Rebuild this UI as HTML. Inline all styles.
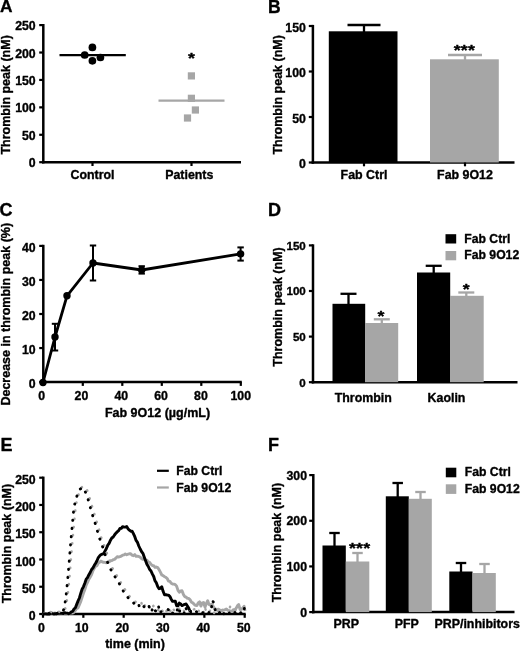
<!DOCTYPE html>
<html lang="en"><head><meta charset="utf-8"><title>Figure</title>
<style>
html,body{margin:0;padding:0;background:#fff;}
svg{display:block;}
svg text{font-family:"Liberation Sans",sans-serif;font-weight:bold;stroke:#000;stroke-width:.35px;stroke-linejoin:round;}
</style></head><body>
<svg width="520" height="651" viewBox="0 0 520 651">
<rect width="520" height="651" fill="#fff"/>
<text x="0.00" y="12.40" font-size="17.3" text-anchor="start" fill="#000" >A</text>
<text x="268.10" y="12.60" font-size="17.5" text-anchor="start" fill="#000" >B</text>
<text x="-0.60" y="216.10" font-size="18" text-anchor="start" fill="#000" >C</text>
<text x="267.90" y="216.10" font-size="18" text-anchor="start" fill="#000" >D</text>
<text x="0.40" y="450.80" font-size="18" text-anchor="start" fill="#000" >E</text>
<text x="267.90" y="450.80" font-size="18" text-anchor="start" fill="#000" >F</text>
<line x1="43.30" y1="163.45" x2="43.30" y2="24.00" stroke="#000" stroke-width="2.5" stroke-linecap="butt"/>
<line x1="39.20" y1="162.20" x2="43.30" y2="162.20" stroke="#000" stroke-width="2.2" stroke-linecap="butt"/>
<text x="35.70" y="167.30" font-size="12.3" text-anchor="end" fill="#000" >0</text>
<line x1="39.20" y1="134.78" x2="43.30" y2="134.78" stroke="#000" stroke-width="2.2" stroke-linecap="butt"/>
<text x="35.70" y="139.88" font-size="12.3" text-anchor="end" fill="#000" >50</text>
<line x1="39.20" y1="107.36" x2="43.30" y2="107.36" stroke="#000" stroke-width="2.2" stroke-linecap="butt"/>
<text x="35.70" y="112.46" font-size="12.3" text-anchor="end" fill="#000" >100</text>
<line x1="39.20" y1="79.94" x2="43.30" y2="79.94" stroke="#000" stroke-width="2.2" stroke-linecap="butt"/>
<text x="35.70" y="85.04" font-size="12.3" text-anchor="end" fill="#000" >150</text>
<line x1="39.20" y1="52.52" x2="43.30" y2="52.52" stroke="#000" stroke-width="2.2" stroke-linecap="butt"/>
<text x="35.70" y="57.62" font-size="12.3" text-anchor="end" fill="#000" >200</text>
<line x1="39.20" y1="25.10" x2="43.30" y2="25.10" stroke="#000" stroke-width="2.2" stroke-linecap="butt"/>
<text x="35.70" y="30.20" font-size="12.3" text-anchor="end" fill="#000" >250</text>
<line x1="42.05" y1="162.20" x2="241.00" y2="162.20" stroke="#000" stroke-width="2.5" stroke-linecap="butt"/>
<line x1="92.50" y1="162.20" x2="92.50" y2="166.00" stroke="#000" stroke-width="2.2" stroke-linecap="butt"/>
<line x1="191.50" y1="162.20" x2="191.50" y2="166.00" stroke="#000" stroke-width="2.2" stroke-linecap="butt"/>
<text x="92.50" y="179.30" font-size="12.4" text-anchor="middle" fill="#000" >Control</text>
<text x="189.30" y="179.30" font-size="12.4" text-anchor="middle" fill="#000" >Patients</text>
<text transform="translate(10.40,94.90) rotate(-90)" font-size="12.5" text-anchor="middle">Thrombin peak (nM)</text>
<line x1="59.50" y1="55.10" x2="125.80" y2="55.10" stroke="#000" stroke-width="2.2" stroke-linecap="butt"/>
<circle cx="92.4" cy="47.4" r="3.85" fill="#000"/>
<circle cx="84.7" cy="55.0" r="3.85" fill="#000"/>
<circle cx="100.4" cy="57.5" r="3.85" fill="#000"/>
<circle cx="92.4" cy="60.8" r="3.85" fill="#000"/>
<line x1="158.50" y1="100.60" x2="224.50" y2="100.60" stroke="#a6a6a6" stroke-width="2.2" stroke-linecap="butt"/>
<rect x="187.80" y="72.30" width="7.20" height="7.20" fill="#a6a6a6"/>
<rect x="187.80" y="94.70" width="7.20" height="7.20" fill="#a6a6a6"/>
<rect x="191.80" y="106.40" width="7.20" height="7.20" fill="#a6a6a6"/>
<rect x="183.90" y="114.40" width="7.20" height="7.20" fill="#a6a6a6"/>
<text transform="translate(191.50,63.18) scale(1.15,0.9)" font-size="15.5" text-anchor="middle" letter-spacing="0.15" stroke-width="0.2">*</text>
<line x1="312.90" y1="163.75" x2="312.90" y2="24.90" stroke="#000" stroke-width="2.5" stroke-linecap="butt"/>
<line x1="308.80" y1="162.50" x2="312.90" y2="162.50" stroke="#000" stroke-width="2.2" stroke-linecap="butt"/>
<text x="305.90" y="168.20" font-size="12.3" text-anchor="end" fill="#000" >0</text>
<line x1="308.80" y1="117.00" x2="312.90" y2="117.00" stroke="#000" stroke-width="2.2" stroke-linecap="butt"/>
<text x="305.90" y="122.70" font-size="12.3" text-anchor="end" fill="#000" >50</text>
<line x1="308.80" y1="71.50" x2="312.90" y2="71.50" stroke="#000" stroke-width="2.2" stroke-linecap="butt"/>
<text x="305.90" y="77.20" font-size="12.3" text-anchor="end" fill="#000" >100</text>
<line x1="308.80" y1="26.00" x2="312.90" y2="26.00" stroke="#000" stroke-width="2.2" stroke-linecap="butt"/>
<text x="305.90" y="31.70" font-size="12.3" text-anchor="end" fill="#000" >150</text>
<line x1="311.65" y1="162.50" x2="514.50" y2="162.50" stroke="#000" stroke-width="2.5" stroke-linecap="butt"/>
<rect x="328.80" y="31.30" width="68.70" height="131.20" fill="#000"/>
<line x1="364.00" y1="25.00" x2="364.00" y2="32.00" stroke="#000" stroke-width="2.3" stroke-linecap="butt"/>
<line x1="347.50" y1="25.00" x2="380.50" y2="25.00" stroke="#000" stroke-width="2.3" stroke-linecap="butt"/>
<rect x="430.00" y="59.30" width="68.80" height="103.20" fill="#a6a6a6"/>
<line x1="465.00" y1="55.00" x2="465.00" y2="60.00" stroke="#a6a6a6" stroke-width="2.3" stroke-linecap="butt"/>
<line x1="448.00" y1="55.00" x2="482.00" y2="55.00" stroke="#a6a6a6" stroke-width="2.3" stroke-linecap="butt"/>
<line x1="364.00" y1="162.50" x2="364.00" y2="166.30" stroke="#000" stroke-width="2.2" stroke-linecap="butt"/>
<line x1="465.00" y1="162.50" x2="465.00" y2="166.30" stroke="#000" stroke-width="2.2" stroke-linecap="butt"/>
<text x="364.00" y="179.30" font-size="12.4" text-anchor="middle" fill="#000" >Fab Ctrl</text>
<text x="465.00" y="179.30" font-size="12.4" text-anchor="middle" fill="#000" >Fab 9O12</text>
<text transform="translate(464.40,54.58) scale(1.15,0.9)" font-size="15.5" text-anchor="middle" letter-spacing="0.15" stroke-width="0.2">***</text>
<text transform="translate(282.30,94.80) rotate(-90)" font-size="12.5" text-anchor="middle">Thrombin peak (nM)</text>
<line x1="43.30" y1="383.35" x2="43.30" y2="244.80" stroke="#000" stroke-width="2.5" stroke-linecap="butt"/>
<line x1="39.20" y1="382.10" x2="43.30" y2="382.10" stroke="#000" stroke-width="2.2" stroke-linecap="butt"/>
<text x="35.70" y="388.40" font-size="12.3" text-anchor="end" fill="#000" >0</text>
<line x1="39.20" y1="348.05" x2="43.30" y2="348.05" stroke="#000" stroke-width="2.2" stroke-linecap="butt"/>
<text x="35.70" y="354.35" font-size="12.3" text-anchor="end" fill="#000" >10</text>
<line x1="39.20" y1="314.00" x2="43.30" y2="314.00" stroke="#000" stroke-width="2.2" stroke-linecap="butt"/>
<text x="35.70" y="320.30" font-size="12.3" text-anchor="end" fill="#000" >20</text>
<line x1="39.20" y1="279.95" x2="43.30" y2="279.95" stroke="#000" stroke-width="2.2" stroke-linecap="butt"/>
<text x="35.70" y="286.25" font-size="12.3" text-anchor="end" fill="#000" >30</text>
<line x1="39.20" y1="245.90" x2="43.30" y2="245.90" stroke="#000" stroke-width="2.2" stroke-linecap="butt"/>
<text x="35.70" y="252.20" font-size="12.3" text-anchor="end" fill="#000" >40</text>
<line x1="42.05" y1="382.10" x2="241.80" y2="382.10" stroke="#000" stroke-width="2.5" stroke-linecap="butt"/>
<line x1="43.30" y1="382.10" x2="43.30" y2="385.90" stroke="#000" stroke-width="2.2" stroke-linecap="butt"/>
<text x="41.60" y="399.50" font-size="12.3" text-anchor="middle" fill="#000" >0</text>
<line x1="82.80" y1="382.10" x2="82.80" y2="385.90" stroke="#000" stroke-width="2.2" stroke-linecap="butt"/>
<text x="81.44" y="399.50" font-size="12.3" text-anchor="middle" fill="#000" >20</text>
<line x1="122.30" y1="382.10" x2="122.30" y2="385.90" stroke="#000" stroke-width="2.2" stroke-linecap="butt"/>
<text x="121.28" y="399.50" font-size="12.3" text-anchor="middle" fill="#000" >40</text>
<line x1="161.80" y1="382.10" x2="161.80" y2="385.90" stroke="#000" stroke-width="2.2" stroke-linecap="butt"/>
<text x="161.12" y="399.50" font-size="12.3" text-anchor="middle" fill="#000" >60</text>
<line x1="201.30" y1="382.10" x2="201.30" y2="385.90" stroke="#000" stroke-width="2.2" stroke-linecap="butt"/>
<text x="200.96" y="399.50" font-size="12.3" text-anchor="middle" fill="#000" >80</text>
<line x1="240.80" y1="382.10" x2="240.80" y2="385.90" stroke="#000" stroke-width="2.2" stroke-linecap="butt"/>
<text x="240.80" y="399.50" font-size="12.3" text-anchor="middle" fill="#000" >100</text>
<text x="157.50" y="416.60" font-size="12.5" text-anchor="middle" fill="#000" >Fab 9O12 (µg/mL)</text>
<text transform="translate(10.40,314.25) rotate(-90)" font-size="12.5" text-anchor="middle">Decrease in thrombin peak (%)</text>
<polyline fill="none" stroke="#000" stroke-width="2.8" stroke-linejoin="round" points="43,382.5 55,337 67,295.8 93,263 141.7,270.0 240.6,253.9"/>
<circle cx="43" cy="382.5" r="3.7" fill="#000"/>
<line x1="55.00" y1="323.80" x2="55.00" y2="350.50" stroke="#000" stroke-width="2.0" stroke-linecap="butt"/>
<line x1="51.80" y1="323.80" x2="58.20" y2="323.80" stroke="#000" stroke-width="2.0" stroke-linecap="butt"/>
<line x1="51.80" y1="350.50" x2="58.20" y2="350.50" stroke="#000" stroke-width="2.0" stroke-linecap="butt"/>
<circle cx="55" cy="337" r="3.7" fill="#000"/>
<circle cx="67" cy="295.8" r="3.7" fill="#000"/>
<line x1="93.00" y1="245.50" x2="93.00" y2="280.50" stroke="#000" stroke-width="2.0" stroke-linecap="butt"/>
<line x1="89.80" y1="245.50" x2="96.20" y2="245.50" stroke="#000" stroke-width="2.0" stroke-linecap="butt"/>
<line x1="89.80" y1="280.50" x2="96.20" y2="280.50" stroke="#000" stroke-width="2.0" stroke-linecap="butt"/>
<circle cx="93" cy="263" r="3.7" fill="#000"/>
<line x1="141.70" y1="266.20" x2="141.70" y2="273.60" stroke="#000" stroke-width="2.0" stroke-linecap="butt"/>
<line x1="138.50" y1="266.20" x2="144.90" y2="266.20" stroke="#000" stroke-width="2.0" stroke-linecap="butt"/>
<line x1="138.50" y1="273.60" x2="144.90" y2="273.60" stroke="#000" stroke-width="2.0" stroke-linecap="butt"/>
<circle cx="141.7" cy="270.0" r="3.7" fill="#000"/>
<line x1="240.60" y1="247.40" x2="240.60" y2="260.60" stroke="#000" stroke-width="2.0" stroke-linecap="butt"/>
<line x1="237.40" y1="247.40" x2="243.80" y2="247.40" stroke="#000" stroke-width="2.0" stroke-linecap="butt"/>
<line x1="237.40" y1="260.60" x2="243.80" y2="260.60" stroke="#000" stroke-width="2.0" stroke-linecap="butt"/>
<circle cx="240.6" cy="253.9" r="3.7" fill="#000"/>
<line x1="313.00" y1="383.45" x2="313.00" y2="244.30" stroke="#000" stroke-width="2.5" stroke-linecap="butt"/>
<line x1="308.90" y1="382.20" x2="313.00" y2="382.20" stroke="#000" stroke-width="2.2" stroke-linecap="butt"/>
<text x="305.80" y="386.65" font-size="11.6" text-anchor="end" fill="#000" >0</text>
<line x1="308.90" y1="336.60" x2="313.00" y2="336.60" stroke="#000" stroke-width="2.2" stroke-linecap="butt"/>
<text x="305.80" y="341.05" font-size="11.6" text-anchor="end" fill="#000" >50</text>
<line x1="308.90" y1="291.00" x2="313.00" y2="291.00" stroke="#000" stroke-width="2.2" stroke-linecap="butt"/>
<text x="305.80" y="295.45" font-size="11.6" text-anchor="end" fill="#000" >100</text>
<line x1="308.90" y1="245.40" x2="313.00" y2="245.40" stroke="#000" stroke-width="2.2" stroke-linecap="butt"/>
<text x="305.80" y="249.85" font-size="11.6" text-anchor="end" fill="#000" >150</text>
<line x1="311.75" y1="382.20" x2="517.50" y2="382.20" stroke="#000" stroke-width="2.5" stroke-linecap="butt"/>
<rect x="332.50" y="303.80" width="32.70" height="78.40" fill="#000"/>
<line x1="348.50" y1="293.80" x2="348.50" y2="305.00" stroke="#000" stroke-width="2.3" stroke-linecap="butt"/>
<line x1="340.50" y1="293.80" x2="356.50" y2="293.80" stroke="#000" stroke-width="2.3" stroke-linecap="butt"/>
<rect x="365.00" y="323.00" width="33.20" height="59.20" fill="#a6a6a6"/>
<line x1="381.80" y1="319.30" x2="381.80" y2="324.00" stroke="#a6a6a6" stroke-width="2.3" stroke-linecap="butt"/>
<line x1="373.80" y1="319.30" x2="389.80" y2="319.30" stroke="#a6a6a6" stroke-width="2.3" stroke-linecap="butt"/>
<rect x="417.00" y="272.50" width="33.20" height="109.70" fill="#000"/>
<line x1="433.70" y1="265.80" x2="433.70" y2="274.00" stroke="#000" stroke-width="2.3" stroke-linecap="butt"/>
<line x1="425.70" y1="265.80" x2="441.70" y2="265.80" stroke="#000" stroke-width="2.3" stroke-linecap="butt"/>
<rect x="450.00" y="295.80" width="33.70" height="86.40" fill="#a6a6a6"/>
<line x1="466.30" y1="292.50" x2="466.30" y2="297.00" stroke="#a6a6a6" stroke-width="2.3" stroke-linecap="butt"/>
<line x1="458.30" y1="292.50" x2="474.30" y2="292.50" stroke="#a6a6a6" stroke-width="2.3" stroke-linecap="butt"/>
<text transform="translate(381.00,320.88) scale(1.15,0.9)" font-size="15.5" text-anchor="middle" letter-spacing="0.15" stroke-width="0.2">*</text>
<text transform="translate(466.40,294.08) scale(1.15,0.9)" font-size="15.5" text-anchor="middle" letter-spacing="0.15" stroke-width="0.2">*</text>
<text x="363.30" y="402.30" font-size="12.4" text-anchor="middle" fill="#000" >Thrombin</text>
<text x="446.50" y="402.30" font-size="12.4" text-anchor="middle" fill="#000" >Kaolin</text>
<text transform="translate(281.50,307.00) rotate(-90)" font-size="12.5" text-anchor="middle">Thrombin peak (nM)</text>
<rect x="445.50" y="234.20" width="10.70" height="9.30" fill="#000"/>
<rect x="445.50" y="251.00" width="10.70" height="9.30" fill="#a6a6a6"/>
<text x="464.30" y="243.30" font-size="12.2" text-anchor="start" fill="#000" >Fab Ctrl</text>
<text x="464.30" y="259.00" font-size="12.2" text-anchor="start" fill="#000" >Fab 9O12</text>
<line x1="43.30" y1="615.25" x2="43.30" y2="476.60" stroke="#000" stroke-width="2.5" stroke-linecap="butt"/>
<line x1="39.20" y1="614.00" x2="43.30" y2="614.00" stroke="#000" stroke-width="2.2" stroke-linecap="butt"/>
<text x="35.70" y="620.20" font-size="12.3" text-anchor="end" fill="#000" >0</text>
<line x1="39.20" y1="586.74" x2="43.30" y2="586.74" stroke="#000" stroke-width="2.2" stroke-linecap="butt"/>
<text x="35.70" y="592.94" font-size="12.3" text-anchor="end" fill="#000" >50</text>
<line x1="39.20" y1="559.48" x2="43.30" y2="559.48" stroke="#000" stroke-width="2.2" stroke-linecap="butt"/>
<text x="35.70" y="565.68" font-size="12.3" text-anchor="end" fill="#000" >100</text>
<line x1="39.20" y1="532.22" x2="43.30" y2="532.22" stroke="#000" stroke-width="2.2" stroke-linecap="butt"/>
<text x="35.70" y="538.42" font-size="12.3" text-anchor="end" fill="#000" >150</text>
<line x1="39.20" y1="504.96" x2="43.30" y2="504.96" stroke="#000" stroke-width="2.2" stroke-linecap="butt"/>
<text x="35.70" y="511.16" font-size="12.3" text-anchor="end" fill="#000" >200</text>
<line x1="39.20" y1="477.70" x2="43.30" y2="477.70" stroke="#000" stroke-width="2.2" stroke-linecap="butt"/>
<text x="35.70" y="483.90" font-size="12.3" text-anchor="end" fill="#000" >250</text>
<line x1="41.75" y1="614.00" x2="245.70" y2="614.00" stroke="#000" stroke-width="2.5" stroke-linecap="butt"/>
<line x1="43.00" y1="614.00" x2="43.00" y2="617.80" stroke="#000" stroke-width="2.2" stroke-linecap="butt"/>
<text x="41.30" y="631.50" font-size="12.3" text-anchor="middle" fill="#000" >0</text>
<line x1="83.34" y1="614.00" x2="83.34" y2="617.80" stroke="#000" stroke-width="2.2" stroke-linecap="butt"/>
<text x="81.80" y="631.50" font-size="12.3" text-anchor="middle" fill="#000" >10</text>
<line x1="123.68" y1="614.00" x2="123.68" y2="617.80" stroke="#000" stroke-width="2.2" stroke-linecap="butt"/>
<text x="122.30" y="631.50" font-size="12.3" text-anchor="middle" fill="#000" >20</text>
<line x1="164.02" y1="614.00" x2="164.02" y2="617.80" stroke="#000" stroke-width="2.2" stroke-linecap="butt"/>
<text x="162.80" y="631.50" font-size="12.3" text-anchor="middle" fill="#000" >30</text>
<line x1="204.36" y1="614.00" x2="204.36" y2="617.80" stroke="#000" stroke-width="2.2" stroke-linecap="butt"/>
<text x="203.30" y="631.50" font-size="12.3" text-anchor="middle" fill="#000" >40</text>
<line x1="244.70" y1="614.00" x2="244.70" y2="617.80" stroke="#000" stroke-width="2.2" stroke-linecap="butt"/>
<text x="243.80" y="631.50" font-size="12.3" text-anchor="middle" fill="#000" >50</text>
<text x="135.00" y="647.60" font-size="12.5" text-anchor="middle" fill="#000" >time (min)</text>
<text transform="translate(11.30,543.60) rotate(-90)" font-size="12.5" text-anchor="middle">Thrombin peak (nM)</text>
<line x1="157.00" y1="470.80" x2="168.80" y2="470.80" stroke="#000" stroke-width="2.2" stroke-linecap="butt"/>
<line x1="157.00" y1="487.50" x2="168.80" y2="487.50" stroke="#a6a6a6" stroke-width="2.2" stroke-linecap="butt"/>
<text x="176.30" y="475.20" font-size="12.2" text-anchor="start" fill="#000" >Fab Ctrl</text>
<text x="176.30" y="492.00" font-size="12.2" text-anchor="start" fill="#000" >Fab 9O12</text>
<polyline fill="none" stroke="#a6a6a6" stroke-width="2.9" stroke-linejoin="round" stroke-linecap="butt" points="43.0,613.2 44.4,613.7 45.7,613.4 47.1,613.7 48.4,613.7 49.8,612.8 51.1,612.7 52.5,614.0 53.8,613.1 55.2,613.0 56.5,614.3 57.9,613.4 59.2,614.0 60.6,613.4 61.9,613.6 63.3,612.8 64.6,613.6 66.0,613.9 67.3,613.4 68.7,613.7 70.0,613.6 71.3,612.6 72.7,613.1 74.0,612.2 75.4,610.4 76.7,608.4 78.1,607.8 79.4,604.6 80.8,601.4 82.1,597.4 83.5,593.1 84.8,589.7 86.2,585.1 87.5,582.4 88.9,579.1 90.2,577.2 91.6,574.5 92.9,570.7 94.3,568.3 95.6,566.3 97.0,565.6 98.3,563.1 99.7,562.2 101.0,561.1 102.4,562.0 103.7,562.3 105.1,562.4 106.4,562.8 107.8,562.1 109.1,561.9 110.5,560.8 111.8,560.6 113.2,559.7 114.5,559.3 115.9,558.1 117.2,556.6 118.6,557.0 119.9,556.7 121.3,556.1 122.6,555.2 124.0,554.9 125.3,554.0 126.7,554.8 128.0,554.2 129.4,553.8 130.7,553.7 132.1,555.2 133.4,555.7 134.8,554.6 136.1,556.3 137.5,556.3 138.8,556.4 140.2,557.2 141.5,558.6 142.9,559.4 144.2,558.7 145.6,560.3 146.9,560.1 148.3,562.0 149.6,562.4 151.0,564.3 152.3,565.5 153.7,565.7 155.0,567.3 156.4,567.0 157.7,567.5 159.1,569.8 160.4,572.1 161.8,575.0 163.1,575.6 164.5,576.7 165.8,577.3 167.2,578.5 168.5,581.1 169.9,581.4 171.2,583.3 172.6,584.1 173.9,584.1 175.3,584.6 176.6,586.1 178.0,590.4 179.3,592.3 180.7,590.9 182.0,590.8 183.4,594.4 184.7,596.6 186.1,597.2 187.4,598.3 188.8,598.4 190.1,599.8 191.5,602.3 192.8,602.9 194.2,604.3 195.5,605.4 196.9,605.5 198.2,603.0 199.6,601.9 200.9,606.1 202.3,603.0 203.6,602.6 205.0,607.2 206.3,603.6 207.7,600.7 209.0,604.4 210.4,605.1 211.7,604.3 213.1,606.2 214.4,608.3 215.8,609.3 217.1,609.7 218.5,609.1 219.8,610.0 221.2,610.8 222.5,610.5 223.9,610.2 225.2,609.7 226.6,609.4 227.9,610.3 229.3,610.7 230.6,611.1 232.0,611.3 233.3,609.7 234.7,610.0 236.0,608.6 237.4,605.9 238.7,604.6 240.1,609.5 241.4,609.3 242.8,608.1 244.1,606.2 245.0,611.0"/>
<polyline fill="none" stroke="#000" stroke-width="2.9" stroke-linejoin="round" stroke-linecap="butt" points="43.0,613.7 44.4,613.9 45.7,613.9 47.1,614.1 48.4,613.8 49.8,614.0 51.1,612.9 52.5,613.5 53.8,614.0 55.2,613.6 56.5,613.9 57.9,613.0 59.2,613.4 60.6,613.1 61.9,613.4 63.3,613.5 64.6,612.8 66.0,613.0 67.3,613.1 68.7,613.8 70.0,613.2 71.3,611.8 72.7,611.4 74.0,609.0 75.4,607.7 76.7,604.4 78.1,600.9 79.4,598.0 80.8,593.2 82.1,589.2 83.5,586.6 84.8,583.2 86.2,579.1 87.5,577.6 88.9,574.7 90.2,572.5 91.6,569.5 92.9,568.0 94.3,565.3 95.6,563.2 97.0,560.7 98.3,557.6 99.7,555.8 101.0,554.6 102.4,554.2 103.7,553.4 105.1,550.9 106.4,548.5 107.8,545.1 109.1,543.3 110.5,540.2 111.8,538.0 113.2,537.0 114.5,535.0 115.9,533.2 117.2,531.9 118.6,530.7 119.9,528.5 121.3,528.4 122.6,526.6 124.0,527.1 125.3,527.1 126.7,526.6 128.0,528.7 129.4,530.2 130.7,531.2 132.1,531.2 133.4,533.7 134.8,536.7 136.1,540.4 137.5,542.4 138.8,546.0 140.2,549.0 141.5,551.5 142.9,553.3 144.2,556.9 145.6,560.7 146.9,564.2 148.3,566.5 149.6,569.3 151.0,571.0 152.3,573.9 153.7,576.5 155.0,580.8 156.4,582.9 157.7,586.4 159.1,588.7 160.4,588.3 161.8,586.8 163.1,591.3 164.5,594.7 165.8,594.7 167.2,595.0 168.5,595.1 169.9,596.5 171.2,599.2 172.6,601.4 173.9,601.3 175.3,601.1 176.6,605.7 178.0,605.9 179.3,603.1 180.7,604.0 182.0,605.6 183.4,605.0 184.7,604.3 186.1,604.0 187.4,606.0 188.8,608.3 190.1,612.0 191.0,613.3"/>
<polyline fill="none" stroke="#a6a6a6" stroke-width="2.5" stroke-linejoin="round" stroke-linecap="round" stroke-dasharray="0.4 7.8" stroke-dashoffset="0" points="50.8,612.1 52.1,612.2 53.5,612.6 54.8,612.1 56.2,612.2 57.5,612.2 58.9,611.8 60.2,612.2 61.6,612.3 62.9,612.0 64.3,610.5 65.6,607.7 67.0,599.6 68.3,590.0 69.7,574.6 71.0,558.2 72.4,541.7 73.7,527.1 75.1,511.9 76.4,502.7 77.8,497.1 79.1,492.7 80.5,490.2 81.8,487.2 83.2,486.3 84.5,486.2 85.9,487.8 87.2,490.6 88.6,494.5 89.9,499.1 91.3,503.6 92.6,508.4 94.0,512.8 95.3,517.5 96.7,521.8 98.0,525.6 99.4,531.0 100.7,536.1 102.1,539.9 103.4,543.6 104.8,546.9 106.1,550.6 107.5,555.4 108.8,559.1 110.2,563.3 111.5,566.1 112.9,569.0 114.2,571.0 115.6,573.8 116.9,575.7 118.3,576.9 119.6,579.6 121.0,583.0 122.3,585.1 123.7,587.9 125.0,589.6 126.4,591.6 127.7,594.1 129.1,595.9 130.4,597.1 131.8,598.6 133.1,600.0 134.5,601.4 135.8,602.0 137.2,600.6 138.5,602.1 139.9,602.0 141.2,602.3 142.6,606.6 143.9,603.9 145.3,606.3 146.6,606.2 148.0,605.2 149.3,608.3 150.7,605.5 152.0,608.4 153.4,605.9 154.7,607.7 156.1,606.9 157.4,607.5 158.8,611.4 160.1,610.7 161.5,608.4 162.8,611.7 164.2,608.4 165.5,609.5 166.9,612.0 168.2,611.0 169.6,608.3 170.9,613.0 172.3,609.1 173.6,609.5 175.0,612.2 176.3,610.1 177.7,610.0 179.0,608.8 180.4,608.9 181.7,611.5 183.1,609.7 184.4,611.6 185.8,610.4 187.1,610.8 188.5,613.0 189.8,611.0 191.2,611.5 192.5,613.0 193.9,609.4 195.2,609.3 196.6,613.0 197.9,612.7 199.3,609.8 200.6,609.5 202.0,612.3 203.3,613.0 204.7,602.7 206.0,613.0 207.4,613.0 208.7,611.6 210.1,610.7 211.4,609.0 212.8,608.7 214.1,613.0 215.5,609.7 216.8,612.1 218.2,609.8 219.5,612.7 220.9,611.6 222.2,610.0 223.6,609.4 224.9,612.2 226.3,608.8 227.6,609.7 229.0,611.4 230.3,605.7 231.7,611.7 233.0,609.9 234.4,613.0 235.7,609.5 237.1,608.6 238.4,609.9 239.8,610.8 241.1,608.8 242.5,609.4 243.8,610.4 245.2,611.4 246.4,611.1"/>
<polyline fill="none" stroke="#000" stroke-width="2.8" stroke-linejoin="round" stroke-linecap="round" stroke-dasharray="0.4 7.8" stroke-dashoffset="0" points="49.1,613.5 50.4,613.8 51.8,613.9 53.1,613.2 54.5,613.7 55.8,613.7 57.2,613.6 58.5,613.1 59.9,613.0 61.2,612.8 62.6,612.4 63.9,608.9 65.3,601.3 66.6,590.8 68.0,576.0 69.3,560.4 70.7,542.5 72.0,528.4 73.4,512.6 74.7,504.2 76.1,499.1 77.4,494.2 78.8,491.7 80.1,489.0 81.5,488.4 82.8,487.4 84.2,489.6 85.5,492.3 86.9,496.0 88.2,499.8 89.6,504.4 90.9,510.0 92.3,514.1 93.6,519.1 95.0,522.8 96.3,527.4 97.7,532.1 99.0,537.3 100.4,540.3 101.7,544.6 103.1,548.0 104.4,552.4 105.8,556.7 107.1,561.3 108.5,564.2 109.8,567.8 111.2,570.3 112.5,572.1 113.9,574.7 115.2,577.1 116.6,578.7 117.9,581.1 119.3,583.6 120.6,586.7 122.0,588.4 123.3,591.1 124.7,593.3 126.0,595.3 127.4,596.6 128.7,598.8 130.1,600.7 131.4,601.3 132.8,602.1 134.1,603.5 135.5,604.3 136.8,603.4 138.2,602.7 139.5,607.3 140.9,605.5 142.2,606.7 143.6,606.0 144.9,608.5 146.3,609.4 147.6,607.4 149.0,606.3 150.3,611.7 151.7,611.5 153.0,606.8 154.4,610.1 155.7,611.0 157.1,609.7 158.4,605.5 159.8,613.3 161.1,611.5 162.5,610.6 163.8,609.7 165.2,610.1 166.5,609.6 167.9,609.5 169.2,610.2 170.6,613.8 171.9,612.2 173.3,613.8 174.6,614.3 176.0,614.1 177.3,609.8 178.7,614.3 180.0,610.1 181.4,613.9 182.7,614.3 184.1,613.2 185.4,607.0 186.8,610.0 188.1,610.0 189.5,613.1 190.8,610.9 192.2,612.5 193.5,611.0 194.9,610.5 196.2,611.2 197.6,613.6 198.9,612.3 200.3,611.8 201.6,612.3 203.0,612.7 204.3,612.5 205.7,612.1 207.0,614.3 208.4,613.8 209.7,610.8 211.1,611.3 212.4,600.2 213.8,603.0 215.1,609.7 216.5,613.7 217.8,612.7 219.2,611.9 220.5,614.3 221.9,611.4 223.2,612.8 224.6,614.3 225.9,612.7 227.3,613.0 228.6,611.6 230.0,614.3 231.3,613.8 232.7,611.3 234.0,611.6 235.4,612.9 236.7,612.5 238.1,612.5 239.4,610.6 240.8,612.8 242.1,613.5 243.5,613.8 244.7,606.0"/>
<line x1="313.30" y1="613.35" x2="313.30" y2="474.00" stroke="#000" stroke-width="2.5" stroke-linecap="butt"/>
<line x1="309.20" y1="612.10" x2="313.30" y2="612.10" stroke="#000" stroke-width="2.2" stroke-linecap="butt"/>
<text x="307.00" y="616.50" font-size="12.3" text-anchor="end" fill="#000" >0</text>
<line x1="309.20" y1="566.43" x2="313.30" y2="566.43" stroke="#000" stroke-width="2.2" stroke-linecap="butt"/>
<text x="307.00" y="570.84" font-size="12.3" text-anchor="end" fill="#000" >100</text>
<line x1="309.20" y1="520.77" x2="313.30" y2="520.77" stroke="#000" stroke-width="2.2" stroke-linecap="butt"/>
<text x="307.00" y="525.17" font-size="12.3" text-anchor="end" fill="#000" >200</text>
<line x1="309.20" y1="475.10" x2="313.30" y2="475.10" stroke="#000" stroke-width="2.2" stroke-linecap="butt"/>
<text x="307.00" y="479.50" font-size="12.3" text-anchor="end" fill="#000" >300</text>
<line x1="312.05" y1="612.10" x2="514.50" y2="612.10" stroke="#000" stroke-width="2.5" stroke-linecap="butt"/>
<rect x="322.50" y="545.50" width="23.30" height="66.60" fill="#000"/>
<line x1="334.50" y1="533.00" x2="334.50" y2="546.50" stroke="#000" stroke-width="2.3" stroke-linecap="butt"/>
<line x1="329.25" y1="533.00" x2="339.75" y2="533.00" stroke="#000" stroke-width="2.3" stroke-linecap="butt"/>
<rect x="345.80" y="561.50" width="23.50" height="50.60" fill="#a6a6a6"/>
<line x1="357.50" y1="553.00" x2="357.50" y2="562.50" stroke="#a6a6a6" stroke-width="2.3" stroke-linecap="butt"/>
<line x1="352.25" y1="553.00" x2="362.75" y2="553.00" stroke="#a6a6a6" stroke-width="2.3" stroke-linecap="butt"/>
<rect x="385.80" y="496.30" width="23.00" height="115.80" fill="#000"/>
<line x1="397.70" y1="483.00" x2="397.70" y2="497.30" stroke="#000" stroke-width="2.3" stroke-linecap="butt"/>
<line x1="392.45" y1="483.00" x2="402.95" y2="483.00" stroke="#000" stroke-width="2.3" stroke-linecap="butt"/>
<rect x="408.80" y="498.80" width="23.00" height="113.30" fill="#a6a6a6"/>
<line x1="420.50" y1="492.00" x2="420.50" y2="499.80" stroke="#a6a6a6" stroke-width="2.3" stroke-linecap="butt"/>
<line x1="415.25" y1="492.00" x2="425.75" y2="492.00" stroke="#a6a6a6" stroke-width="2.3" stroke-linecap="butt"/>
<rect x="449.30" y="571.50" width="23.20" height="40.60" fill="#000"/>
<line x1="461.00" y1="563.00" x2="461.00" y2="572.50" stroke="#000" stroke-width="2.3" stroke-linecap="butt"/>
<line x1="455.75" y1="563.00" x2="466.25" y2="563.00" stroke="#000" stroke-width="2.3" stroke-linecap="butt"/>
<rect x="472.50" y="573.00" width="23.30" height="39.10" fill="#a6a6a6"/>
<line x1="484.50" y1="564.00" x2="484.50" y2="574.00" stroke="#a6a6a6" stroke-width="2.3" stroke-linecap="butt"/>
<line x1="479.25" y1="564.00" x2="489.75" y2="564.00" stroke="#a6a6a6" stroke-width="2.3" stroke-linecap="butt"/>
<text transform="translate(359.60,552.58) scale(1.15,0.9)" font-size="15.5" text-anchor="middle" letter-spacing="0.15" stroke-width="0.2">***</text>
<text x="346.30" y="627.80" font-size="12.4" text-anchor="middle" fill="#000" >PRP</text>
<text x="406.80" y="627.80" font-size="12.4" text-anchor="middle" fill="#000" >PFP</text>
<text x="477.20" y="627.80" font-size="12.4" text-anchor="middle" fill="#000" >PRP/inhibitors</text>
<text transform="translate(281.10,542.60) rotate(-90)" font-size="12.5" text-anchor="middle">Thrombin peak (nM)</text>
<rect x="445.80" y="467.70" width="10.50" height="9.60" fill="#000"/>
<rect x="445.80" y="484.30" width="10.50" height="9.60" fill="#a6a6a6"/>
<text x="464.80" y="476.40" font-size="12.2" text-anchor="start" fill="#000" >Fab Ctrl</text>
<text x="464.80" y="493.10" font-size="12.2" text-anchor="start" fill="#000" >Fab 9O12</text>
</svg>
</body></html>
